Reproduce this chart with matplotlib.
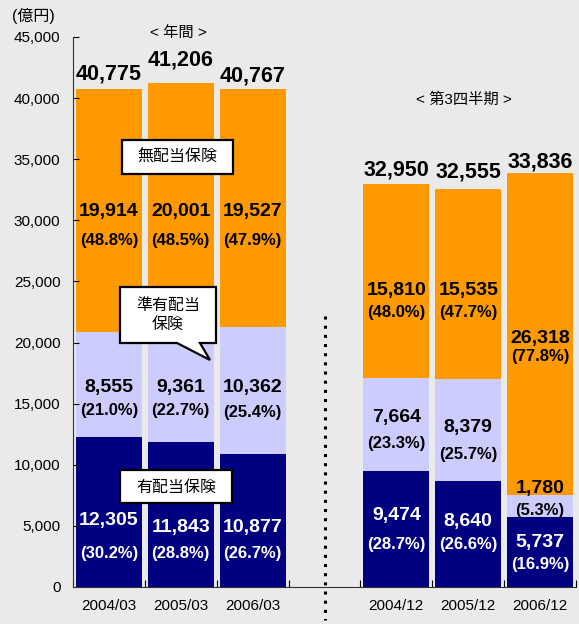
import matplotlib.pyplot as plt
from matplotlib.patches import Polygon

plt.rcParams['font.family'] = ['Liberation Sans', 'Noto Sans CJK JP', 'DejaVu Sans']

# data (億円)
periods = ['2004/03', '2005/03', '2006/03', '2004/12', '2005/12', '2006/12']
with_div = [12305, 11843, 10877, 9474, 8640, 5737]        # 有配当保険
semi_div = [8555, 9361, 10362, 7664, 8379, 1780]          # 準有配当保険
no_div = [19914, 20001, 19527, 15810, 15535, 26318]       # 無配当保険
totals = [40775, 41206, 40767, 32950, 32555, 33836]
pct_with = [30.2, 28.8, 26.7, 28.7, 26.6, 16.9]
pct_semi = [21.0, 22.7, 25.4, 23.3, 25.7, 5.3]
pct_no = [48.8, 48.5, 47.9, 48.0, 47.7, 77.8]
yticks = [0, 5000, 10000, 15000, 20000, 25000, 30000, 35000, 40000, 45000]

# layout: slot 3 is left empty between the two groups
xpos = [0, 1, 2, 4, 5, 6]
# label heights (data units)
y_with_val = [5400, 4900, 4900, 5890, 5320, 3680]
y_with_pct = [2780, 2780, 2780, 3440, 3440, 1800]
y_semi_val = [16360, 16360, 16360, 13830, 13090, 8020]
y_semi_pct = [14400, 14400, 14240, 11780, 10880, 6300]
y_no_val = [30760, 30760, 30760, 24300, 24300, 20370]
y_no_pct = [28310, 28310, 28310, 22500, 22500, 18820]
y_total = [42010, 43140, 41800, 34120, 33950, 34790]

navy = '#000080'
lav = '#CCCCFF'
orange = '#FF9900'
bg = '#EAEAEA'

W, H = 579, 624
fig = plt.figure(figsize=(W / 100, H / 100), dpi=100, facecolor=bg)
ax = fig.add_axes([73 / W, (H - 587) / H, 503 / W, 550 / H])
ax.set_facecolor(bg)

bw = 0.92
b2 = [a + b for a, b in zip(with_div, semi_div)]
ax.bar(xpos, with_div, bw, color=navy)
ax.bar(xpos, semi_div, bw, bottom=with_div, color=lav)
ax.bar(xpos, no_div, bw, bottom=b2, color=orange)

for i, x in enumerate(xpos):
    ax.text(x, y_with_val[i], f'{with_div[i]:,}', ha='center', va='center',
            color='white', fontsize=14, fontweight='bold')
    ax.text(x, y_with_pct[i], f'({pct_with[i]:.1f}%)', ha='center', va='center',
            color='white', fontsize=12, fontweight='bold')
    ax.text(x, y_semi_val[i], f'{semi_div[i]:,}', ha='center', va='center',
            color='black', fontsize=14, fontweight='bold')
    ax.text(x, y_semi_pct[i], f'({pct_semi[i]:.1f}%)', ha='center', va='center',
            color='black', fontsize=12, fontweight='bold')
    ax.text(x, y_no_val[i], f'{no_div[i]:,}', ha='center', va='center',
            color='black', fontsize=14, fontweight='bold')
    ax.text(x, y_no_pct[i], f'({pct_no[i]:.1f}%)', ha='center', va='center',
            color='black', fontsize=12, fontweight='bold')
    ax.text(x, y_total[i], f'{totals[i]:,}', ha='center', va='center',
            color='black', fontsize=15.5, fontweight='bold')

ax.set_xlim(-0.5, 6.5)
ax.set_ylim(0, 45000)
ax.set_yticks(yticks)
ax.set_yticklabels([f'{v:,}' for v in yticks], fontsize=11)
ax.set_xticks([-0.5, 0.5, 1.5, 2.5, 3.5, 4.5, 5.5, 6.5])
ax.set_xticklabels([])
ax.set_xticks(xpos, minor=True)
ax.set_xticklabels(periods, minor=True, fontsize=11)
ax.tick_params(axis='x', which='minor', length=0, pad=9)
ax.tick_params(axis='x', which='major', direction='in', length=5)
ax.tick_params(axis='y', direction='in', length=4, pad=9)
ax.spines['top'].set_visible(False)
ax.spines['right'].set_visible(False)
ax.spines['left'].set_color('#333333')
ax.spines['bottom'].set_color('#333333')

# dotted separator between groups
ax.plot([3, 3], [22200, -2700], color='black', linestyle=(0, (1, 2)),
        linewidth=2.2, clip_on=False)

def fx(px):
    return px / W

def fy(py):
    return 1 - py / H

fig.text(fx(12), fy(16), '(億円)', fontsize=11.5, va='center', ha='left')
fig.text(fx(178), fy(33), '< 年間 >', fontsize=11, va='center', ha='center')
fig.text(fx(464), fy(100), '< 第3四半期 >', fontsize=11, va='center', ha='center')

def callout(pts, lines, cx, cy):
    poly = Polygon([(fx(x), fy(y)) for x, y in pts], closed=True,
                   facecolor='white', edgecolor='black', linewidth=1.6,
                   transform=fig.transFigure, zorder=5)
    fig.add_artist(poly)
    fig.text(fx(cx), fy(cy), lines, fontsize=11.5, ha='center', va='center',
             zorder=6, linespacing=1.3)

callout([(122, 140), (233, 140), (233, 174), (122, 174)], '無配当保険', 177, 157)
callout([(120, 287), (216, 287), (216, 343), (200, 343), (210, 360),
         (177, 343), (120, 343)], '準有配当\n保険', 168, 315)
callout([(120, 470), (232, 470), (232, 503), (120, 503)], '有配当保険', 176, 487)

plt.savefig('out.png', dpi=100, facecolor=bg)
